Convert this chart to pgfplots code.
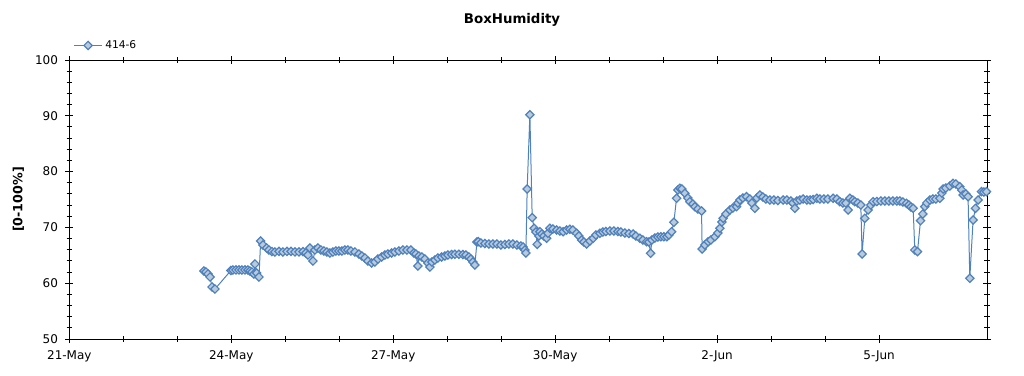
\documentclass[border=0pt]{standalone}
\usepackage{pgfplots}
\pgfplotsset{compat=1.18}
\usepackage{pgfplotstable}
\usepackage{fontspec}
\setmainfont{DejaVu Sans}
\definecolor{serline}{RGB}{79,129,189}
\definecolor{serfill}{RGB}{185,202,218}
\pgfplotstableread{
d v
2.494 62.19
2.531 62.01
2.569 61.65
2.606 61.11
2.643 59.32
2.698 58.96
2.994 62.28
3.031 62.37
3.087 62.37
3.143 62.37
3.198 62.37
3.254 62.37
3.309 62.37
3.346 62.19
3.383 62.01
3.420 61.65
3.439 63.44
3.470 61.83
3.513 61.11
3.544 67.56
3.587 66.85
3.656 66.31
3.698 65.95
3.754 65.68
3.809 65.59
3.883 65.70
3.957 65.60
4.031 65.70
4.106 65.70
4.180 65.60
4.254 65.60
4.328 65.65
4.383 65.41
4.420 65.05
4.457 66.31
4.513 63.98
4.550 65.95
4.606 66.31
4.661 65.95
4.717 65.77
4.772 65.59
4.828 65.41
4.883 65.59
4.939 65.77
4.994 65.77
5.050 65.77
5.106 65.95
5.161 65.95
5.217 65.77
5.291 65.59
5.365 65.23
5.420 64.87
5.476 64.52
5.531 63.98
5.600 63.62
5.661 63.80
5.717 64.34
5.785 64.70
5.846 65.05
5.902 65.23
5.970 65.41
6.031 65.59
6.106 65.77
6.180 65.95
6.254 65.95
6.328 65.95
6.383 65.41
6.420 65.23
6.456 63.08
6.476 64.87
6.531 64.70
6.587 64.34
6.643 63.62
6.680 62.90
6.717 63.80
6.772 64.16
6.828 64.52
6.896 64.70
6.957 64.87
7.013 65.05
7.081 65.14
7.143 65.18
7.217 65.18
7.291 65.14
7.346 65.05
7.402 64.70
7.439 64.34
7.476 63.80
7.513 63.26
7.550 67.38
7.574 67.44
7.624 67.20
7.698 67.11
7.772 67.03
7.846 67.03
7.920 67.03
7.994 66.85
8.069 66.94
8.143 67.03
8.217 67.03
8.291 66.85
8.365 66.67
8.407 66.49
8.439 65.95
8.457 65.41
8.481 76.88
8.531 90.20
8.574 71.74
8.611 69.84
8.643 69.18
8.667 66.97
8.698 68.46
8.717 69.23
8.754 68.82
8.791 68.46
8.841 68.05
8.865 68.94
8.902 69.84
8.957 69.71
9.026 69.53
9.087 69.35
9.148 69.23
9.211 69.53
9.272 69.66
9.328 69.53
9.396 68.94
9.439 68.46
9.489 67.74
9.531 67.38
9.581 67.03
9.643 67.56
9.704 68.05
9.754 68.64
9.828 68.94
9.883 69.18
9.939 69.27
10.013 69.35
10.087 69.35
10.161 69.27
10.217 69.18
10.291 69.00
10.365 68.91
10.443 68.82
10.494 68.46
10.567 68.05
10.624 67.74
10.693 67.44
10.735 67.38
10.767 65.36
10.791 67.74
10.846 68.10
10.902 68.28
10.957 68.33
11.013 68.33
11.069 68.33
11.106 68.64
11.156 69.23
11.198 70.91
11.248 75.22
11.272 76.70
11.309 77.01
11.346 76.88
11.402 76.11
11.457 75.27
11.494 74.61
11.550 74.19
11.587 73.71
11.643 73.30
11.711 72.94
11.722 66.13
11.772 66.85
11.833 67.44
11.883 67.74
11.957 68.33
12.013 69.00
12.050 69.84
12.087 70.97
12.111 71.63
12.161 72.40
12.235 73.12
12.291 73.48
12.359 73.71
12.383 74.37
12.420 74.91
12.476 75.27
12.544 75.50
12.606 75.09
12.643 74.37
12.698 73.42
12.735 75.27
12.791 75.81
12.846 75.45
12.902 75.09
12.976 74.91
13.050 74.91
13.124 74.82
13.222 74.91
13.291 74.91
13.365 74.73
13.402 74.37
13.439 73.42
13.476 74.73
13.531 74.91
13.593 75.09
13.661 74.91
13.722 74.91
13.778 75.00
13.846 75.22
13.902 75.09
13.976 75.09
14.050 75.09
14.148 75.22
14.217 75.09
14.272 74.61
14.328 74.37
14.383 74.37
14.426 73.12
14.457 75.22
14.513 74.91
14.550 74.61
14.606 74.37
14.661 74.01
14.685 65.23
14.735 71.63
14.796 73.12
14.846 74.01
14.889 74.61
14.957 74.64
15.031 74.73
15.106 74.73
15.180 74.73
15.254 74.73
15.328 74.73
15.383 74.73
15.439 74.55
15.507 74.32
15.552 74.01
15.589 73.66
15.631 73.42
15.661 65.95
15.711 65.65
15.767 71.20
15.809 72.40
15.846 73.71
15.883 74.37
15.939 74.91
15.994 75.09
16.050 75.09
16.124 75.22
16.161 76.16
16.185 76.88
16.235 77.06
16.309 77.42
16.370 77.90
16.420 77.78
16.494 77.29
16.531 76.70
16.556 75.81
16.606 75.99
16.648 75.50
16.680 60.88
16.741 71.33
16.785 73.42
16.833 74.91
16.896 76.40
16.939 76.34
16.989 76.40
}\humidity
\begin{document}
\begin{tikzpicture}
\begin{axis}[
  at={(0,0)}, anchor=south west,
  scale only axis,
  width=688.3pt, height=209.25pt,
  xmin=0, xmax=17, ymin=50, ymax=100,
  xtick={0,3,6,9,12,15},
  xticklabels={21-May,24-May,27-May,30-May,2-Jun,5-Jun},
  minor x tick num=2,
  ytick={50,60,70,80,90,100},
  minor y tick num=4,
  /pgf/number format/assume math mode=true,
  tick align=center,
  major tick length=6pt,
  minor tick length=4pt,
  tick style={black, line width=0.75pt},
  axis line style={black, line width=0.75pt},
  ticklabel style={font=\fontsize{9}{10}\selectfont},
  xticklabel style={yshift=-2pt},
  yticklabel style={xshift=-2pt},
  title={BoxHumidity},
  title style={at={(0.4824,1)}, anchor=center, yshift=24pt, font=\bfseries\fontsize{10}{12}\selectfont},
  ylabel={[0-100\%]},
  ylabel style={at={(axis description cs:-0.0556,0.5)}, anchor=center, font=\bfseries\fontsize{9.5}{11}\selectfont},
  legend style={at={(axis description cs:0,1)}, anchor=south west, draw=none, fill=none,
    font=\fontsize{8}{9}\selectfont, inner sep=0pt, xshift=3pt, yshift=5pt},
  legend image code/.code={\draw[#1,mark repeat=2,mark phase=2] plot coordinates {(0pt,0pt) (10.5pt,0pt) (21pt,0pt)};},
  legend cell align=left,
]
\addplot[color=serline, line width=0.75pt, mark=square*, mark size=2.2pt,
  mark options={rotate=45, fill=serfill, draw=serline, line width=0.9pt}]
  table[x=d, y=v] {\humidity};
\addlegendentry{414-6}
\end{axis}
\pgfresetboundingbox
\path[use as bounding box] (-52pt,-27pt) rectangle (716pt,254.25pt);
\end{tikzpicture}
\end{document}
